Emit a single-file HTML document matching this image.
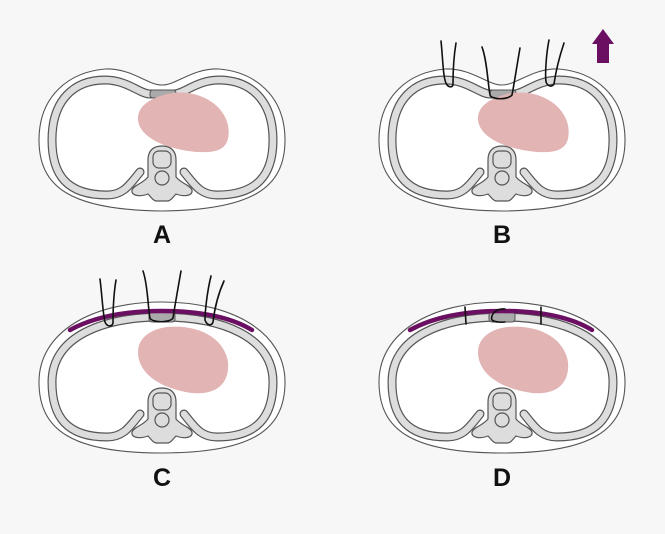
<!DOCTYPE html>
<html><head><style>html,body{margin:0;padding:0;background:#f7f7f7}svg{display:block}</style></head>
<body>
<svg width="665" height="534" viewBox="0 0 665 534" xmlns="http://www.w3.org/2000/svg">
<defs>
<g id="spine">
<path d="M -14,20 C -14,10 -8,6 0,6 C 8,6 14,10 14,20 L 14,37 C 20,44 28,45 30,50 C 31,56 22,57 14,54 C 11,57 9,61 5,61 L -5,61 C -9,61 -11,57 -14,54 C -22,57 -31,56 -30,50 C -28,45 -20,44 -14,37 Z" fill="#ddd" stroke="#555" stroke-width="1.2"/>
<rect x="-9" y="11" width="18" height="17" rx="6" fill="#ddd" stroke="#555" stroke-width="1.2"/>
<circle cx="0" cy="38" r="7" fill="#ddd" stroke="#555" stroke-width="1.2"/>
</g>
<g id="A">
<path d="M -123,0 C -123,-45 -92,-68 -57,-71 C -30,-72 -15,-55 0,-55 C 15,-55 30,-72 57,-71 C 92,-68 123,-45 123,0 C 123,48 90,70 0,71 C -90,70 -123,48 -123,0 Z" fill="#fff" stroke="#555" stroke-width="1.1"/>
<path d="M -22,32 C -32,44 -38,55 -55,55 C -95,55 -110,35 -110,0 C -110,-40 -88,-60 -57,-60 C -35,-60 -22,-46 -12,-46 L 12,-46 C 22,-46 35,-60 57,-60 C 88,-60 111,-40 111,0 C 111,35 95,55 55,55 C 38,55 32,44 22,32" fill="none" stroke="#555" stroke-width="9" stroke-linecap="round"/>
<path d="M -22,32 C -32,44 -38,55 -55,55 C -95,55 -110,35 -110,0 C -110,-40 -88,-60 -57,-60 C -35,-60 -22,-46 -12,-46 L 12,-46 C 22,-46 35,-60 57,-60 C 88,-60 111,-40 111,0 C 111,35 95,55 55,55 C 38,55 32,44 22,32" fill="none" stroke="#ddd" stroke-width="6.6" stroke-linecap="round"/>
<rect x="-12" y="-50" width="26" height="8" rx="3" fill="#aaa" stroke="#555" stroke-width="1"/>
<path d="M 5,-46 C 30,-52 60,-40 66,-15 C 70,10 55,13 35,12 C 10,10 -22,0 -24,-20 C -25,-35 -10,-42 5,-46 Z" fill="#e2b4b4"/>
<use href="#spine"/>
</g>
<g id="C">
<path d="M -123,0 C -123,-50 -70,-80 0,-80 C 70,-80 123,-50 123,0 C 123,48 90,71 0,71 C -90,71 -123,48 -123,0 Z" fill="#fff" stroke="#555" stroke-width="1.1"/>
<path d="M -22,32 C -32,44 -38,55 -55,55 C -95,55 -110,35 -110,0 C -110,-45 -60,-65 0,-65 C 60,-65 111,-45 111,0 C 111,35 95,55 55,55 C 38,55 32,44 22,32" fill="none" stroke="#555" stroke-width="9" stroke-linecap="round"/>
<path d="M -22,32 C -32,44 -38,55 -55,55 C -95,55 -110,35 -110,0 C -110,-45 -60,-65 0,-65 C 60,-65 111,-45 111,0 C 111,35 95,55 55,55 C 38,55 32,44 22,32" fill="none" stroke="#ddd" stroke-width="6.6" stroke-linecap="round"/>
<rect x="-13" y="-70" width="26" height="10" rx="3" fill="#aaa" stroke="#555" stroke-width="1"/>
<path d="M -92,-52 C -70,-64 -40,-71 0,-71 C 40,-71 70,-64 90,-52" fill="none" stroke="#6a0f62" stroke-width="4.5" stroke-linecap="round"/>
<path d="M 5,-55 C 35,-58 62,-45 66,-20 C 68,5 50,13 30,11 C 5,8 -24,-5 -24,-30 C -24,-45 -10,-53 5,-55 Z" fill="#e2b4b4"/>
<use href="#spine"/>
</g>
</defs>

<use href="#A" transform="translate(162,140)"/>
<use href="#A" transform="translate(502,140)"/>
<use href="#C" transform="translate(162,382)"/>
<use href="#C" transform="translate(502,382)"/>

<g fill="none" stroke="#111" stroke-width="1.6" stroke-linecap="round">
<path d="M 441,41 C 443,60 443,80 447,85 C 450,88 453,87 453,84 C 453,70 454,55 456,43"/>
<path d="M 482,47 C 487,60 488,85 490,95 C 492,100 508,100 512,95 C 514,85 517,65 520,48"/>
<path d="M 549,40 C 546,55 545,75 546,82 C 548,87 552,87 554,84 C 556,70 560,55 564,43"/>
</g>
<path d="M 603,29 L 614,44 L 609,44 L 609,63 L 597,63 L 597,44 L 592,44 Z" fill="#6a0f62"/>

<g fill="none" stroke="#111" stroke-width="1.6" stroke-linecap="round">
<path d="M 100,279 C 102,295 103,315 105,322 C 107,327 112,327 113,323 C 113,305 114,292 116,280"/>
<path d="M 143,271 C 148,285 148,310 150,318 C 152,323 170,323 173,318 C 175,305 178,288 181,271"/>
<path d="M 211,276 C 207,292 205,312 205,320 C 207,326 212,326 213,322 C 215,305 219,292 224,281"/>
</g>
<g fill="none" stroke="#111" stroke-width="1.6" stroke-linecap="round">
<path d="M 465,307 L 466,324"/>
<path d="M 541,307 L 541,324"/>
<path d="M 505,309 C 495,308 490,316 492,320 C 495,323 505,322 505,322"/>
</g>

<g font-family="Liberation Sans, sans-serif" font-weight="bold" font-size="25" fill="#111" text-anchor="middle">
<text x="162" y="243">A</text>
<text x="502" y="243">B</text>
<text x="162" y="486">C</text>
<text x="502" y="486">D</text>
</g>
</svg>
</body></html>
